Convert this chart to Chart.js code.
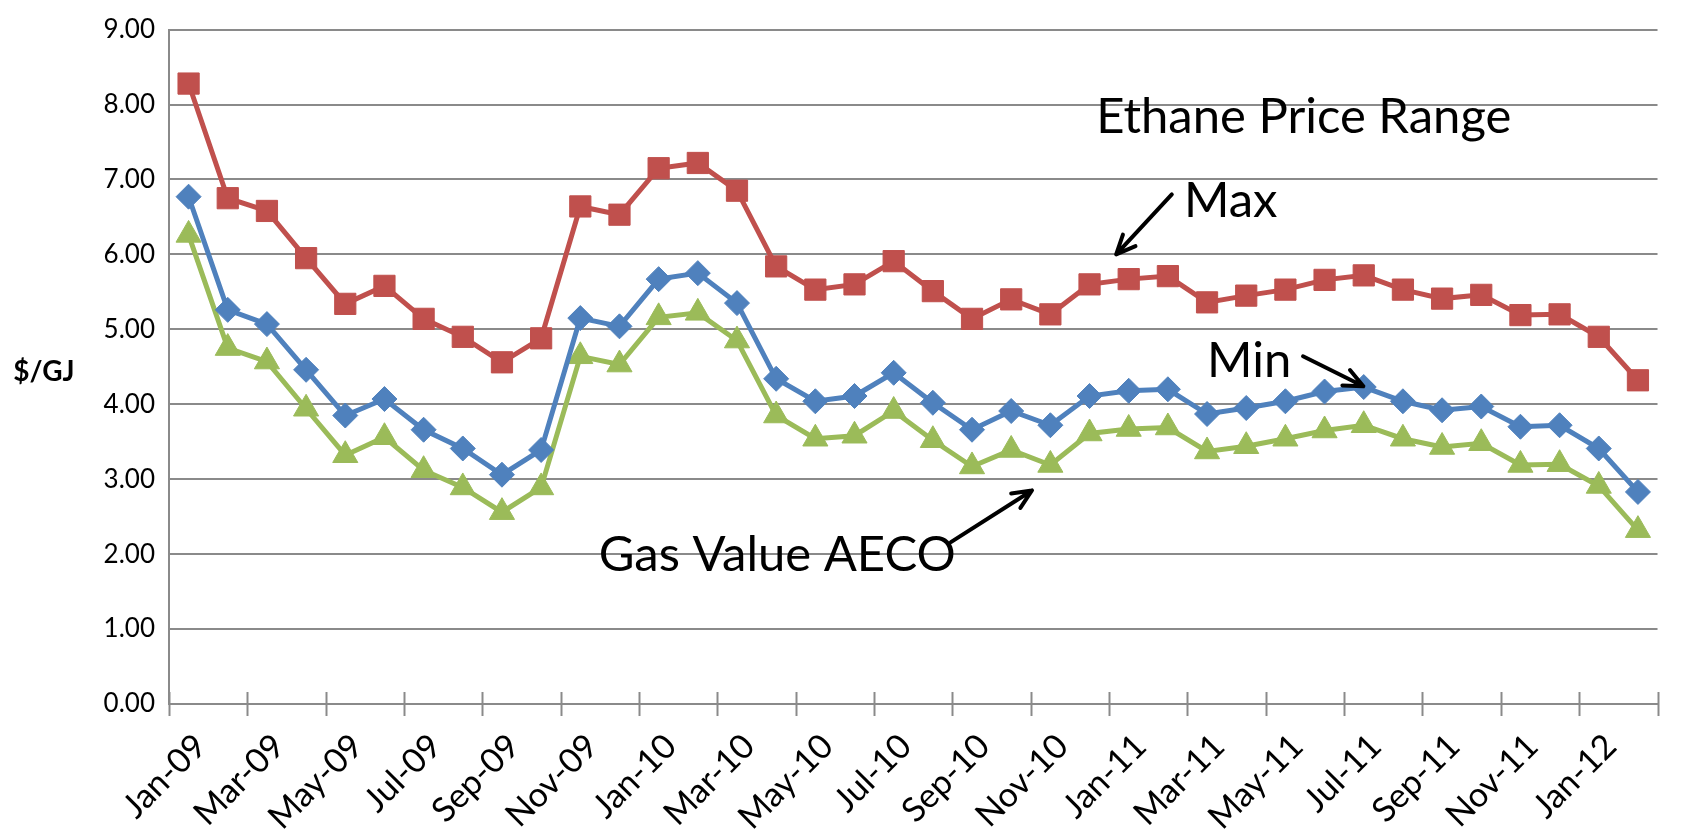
<!DOCTYPE html>
<html>
<head>
<meta charset="utf-8">
<script src="https://cdn.jsdelivr.net/npm/chart.js@4.4.1/dist/chart.umd.min.js"></script>
<style>
    html, body { margin: 0; padding: 0; background: #ffffff; }
    #wrap { position: relative; width: 1681px; height: 837px; }
</style>
</head>
<body>
<div id="wrap"><canvas id="ethaneChart"></canvas></div>
<script>
// ---------------------------------------------------------------
// Data ($/GJ, monthly)
// ---------------------------------------------------------------
var months = [
    'Jan-09', 'Feb-09', 'Mar-09', 'Apr-09', 'May-09', 'Jun-09', 'Jul-09', 'Aug-09', 'Sep-09', 'Oct-09', 'Nov-09', 'Dec-09',
    'Jan-10', 'Feb-10', 'Mar-10', 'Apr-10', 'May-10', 'Jun-10', 'Jul-10', 'Aug-10', 'Sep-10', 'Oct-10', 'Nov-10', 'Dec-10',
    'Jan-11', 'Feb-11', 'Mar-11', 'Apr-11', 'May-11', 'Jun-11', 'Jul-11', 'Aug-11', 'Sep-11', 'Oct-11', 'Nov-11', 'Dec-11',
    'Jan-12', 'Feb-12'
];

var maxPrice = [
    8.28, 6.75, 6.58, 5.95, 5.34, 5.58, 5.14, 4.90, 4.56, 4.88,
    6.64, 6.53, 7.15, 7.22, 6.85, 5.84, 5.53, 5.60, 5.91, 5.51,
    5.14, 5.40, 5.20, 5.60, 5.67, 5.71, 5.36, 5.45, 5.53, 5.66,
    5.72, 5.53, 5.41, 5.46, 5.19, 5.20, 4.90, 4.32
];

var minPrice = [
    6.77, 5.26, 5.07, 4.46, 3.85, 4.07, 3.66, 3.41, 3.06, 3.39,
    5.15, 5.04, 5.67, 5.75, 5.35, 4.34, 4.04, 4.11, 4.42, 4.02,
    3.66, 3.91, 3.72, 4.11, 4.18, 4.20, 3.87, 3.95, 4.04, 4.17,
    4.23, 4.04, 3.92, 3.97, 3.70, 3.72, 3.41, 2.83
];

var gasAeco = [
    6.26, 4.75, 4.57, 3.94, 3.32, 3.56, 3.12, 2.89, 2.56, 2.89,
    4.64, 4.53, 5.16, 5.22, 4.85, 3.85, 3.54, 3.58, 3.91, 3.52,
    3.17, 3.39, 3.19, 3.61, 3.67, 3.69, 3.37, 3.44, 3.54, 3.65,
    3.72, 3.54, 3.43, 3.48, 3.19, 3.20, 2.91, 2.32
];

var yMin = 0;
var yMax = 9;
var yStep = 1;
var yTitle = '$/GJ';

// Callout texts and arrows, placed in axis units (category index, $/GJ)
var noteTexts = [
    { text: 'Ethane Price Range', idx: 23.17, val: 7.62 },
    { text: 'Max', idx: 25.41, val: 6.50 },
    { text: 'Min', idx: 26.00, val: 4.36 },
    { text: 'Gas Value AECO', idx: 10.47, val: 1.78 }
];
var noteArrows = [
    { from: [25.10, 6.80], to: [23.68, 6.00] },
    { from: [28.45, 4.64], to: [29.99, 4.24] },
    { from: [19.46, 2.16], to: [21.53, 2.85] }
];

// ---------------------------------------------------------------
// Style
// ---------------------------------------------------------------
var COLOR_MAX = '#C0504D';
var COLOR_MIN = '#4F81BD';
var COLOR_GAS = '#9BBB59';
var GRID_COLOR = '#8A8A8A';
var FONT_FAMILY = 'Lato, Calibri, "Noto Sans", sans-serif';

// Axis title drawn horizontally, crossing tick marks, and callouts
var decorPlugin = {
    id: 'decor',
    afterDraw: function (chart) {
        var ctx = chart.ctx;
        var area = chart.chartArea;
        var xs = chart.scales.x;
        var ys = chart.scales.y;

        ctx.save();

        // y title, not rotated
        ctx.fillStyle = '#000000';
        ctx.font = 'bold 28px ' + FONT_FAMILY;
        ctx.textAlign = 'center';
        ctx.textBaseline = 'middle';
        ctx.fillText(yTitle, 44, (area.top + area.bottom) / 2 + 5);

        // tick marks every second month, crossing the x axis
        ctx.strokeStyle = GRID_COLOR;
        ctx.lineWidth = 2;
        for (var i = 0; i <= months.length; i += 2) {
            var tx = Math.round(xs.getPixelForValue(i - 0.5)) + 0.5;
            ctx.beginPath();
            ctx.moveTo(tx, area.bottom - 12);
            ctx.lineTo(tx, area.bottom + 12);
            ctx.stroke();
        }

        // callout texts
        ctx.fillStyle = '#000000';
        ctx.font = '49px ' + FONT_FAMILY;
        ctx.textAlign = 'left';
        ctx.textBaseline = 'alphabetic';
        noteTexts.forEach(function (n) {
            ctx.fillText(n.text, xs.getPixelForValue(n.idx), ys.getPixelForValue(n.val));
        });

        // callout arrows
        ctx.strokeStyle = '#000000';
        ctx.lineWidth = 4;
        ctx.lineCap = 'round';
        ctx.lineJoin = 'round';
        noteArrows.forEach(function (a) {
            var x1 = xs.getPixelForValue(a.from[0]);
            var y1 = ys.getPixelForValue(a.from[1]);
            var x2 = xs.getPixelForValue(a.to[0]);
            var y2 = ys.getPixelForValue(a.to[1]);
            var ang = Math.atan2(y2 - y1, x2 - x1);
            var head = 21;
            ctx.beginPath();
            ctx.moveTo(x1, y1);
            ctx.lineTo(x2, y2);
            ctx.moveTo(x2 - head * Math.cos(ang - 0.42), y2 - head * Math.sin(ang - 0.42));
            ctx.lineTo(x2, y2);
            ctx.lineTo(x2 - head * Math.cos(ang + 0.42), y2 - head * Math.sin(ang + 0.42));
            ctx.stroke();
        });

        ctx.restore();
    }
};

function lineSet(label, values, color, shape, radius) {
    return {
        label: label,
        data: values,
        borderColor: color,
        backgroundColor: color,
        borderWidth: 5,
        pointStyle: shape,
        pointRadius: radius,
        pointBackgroundColor: color,
        pointBorderColor: color,
        pointBorderWidth: 1,
        tension: 0
    };
}

var ctx = document.getElementById('ethaneChart').getContext('2d');
var ethaneChart = new Chart(ctx, {
    type: 'line',
    data: {
        labels: months,
        datasets: [
            lineSet('Max', maxPrice, COLOR_MAX, 'rect', 15),
            lineSet('Min', minPrice, COLOR_MIN, 'rectRot', 12.5),
            lineSet('Gas Value AECO', gasAeco, COLOR_GAS, 'triangle', 14.5)
        ]
    },
    options: {
        responsive: true,
        maintainAspectRatio: false,
        animation: false,
        layout: { padding: { top: 19, right: 13, left: 0, bottom: 0 } },
        plugins: {
            legend: { display: false },
            tooltip: { enabled: false }
        },
        scales: {
            x: {
                type: 'category',
                offset: true,
                grid: { display: false },
                border: { display: true, color: GRID_COLOR, width: 2 },
                ticks: {
                    autoSkip: false,
                    minRotation: 45,
                    maxRotation: 45,
                    padding: 14,
                    labelOffset: 12,
                    color: '#000000',
                    font: { family: FONT_FAMILY, size: 34 },
                    callback: function (value, index) {
                        return index % 2 === 0 ? this.getLabelForValue(value) : '';
                    }
                },
                afterFit: function (scale) { scale.height = 133; }
            },
            y: {
                min: yMin,
                max: yMax,
                ticks: {
                    stepSize: yStep,
                    padding: 14,
                    color: '#000000',
                    font: { family: FONT_FAMILY, size: 26 },
                    callback: function (value) { return Number(value).toFixed(2); }
                },
                grid: { color: GRID_COLOR, lineWidth: 2, drawTicks: false },
                border: { display: true, color: GRID_COLOR, width: 2 },
                afterFit: function (scale) { scale.width = 169; }
            }
        }
    },
    plugins: [decorPlugin]
});
</script>
</body>
</html>
